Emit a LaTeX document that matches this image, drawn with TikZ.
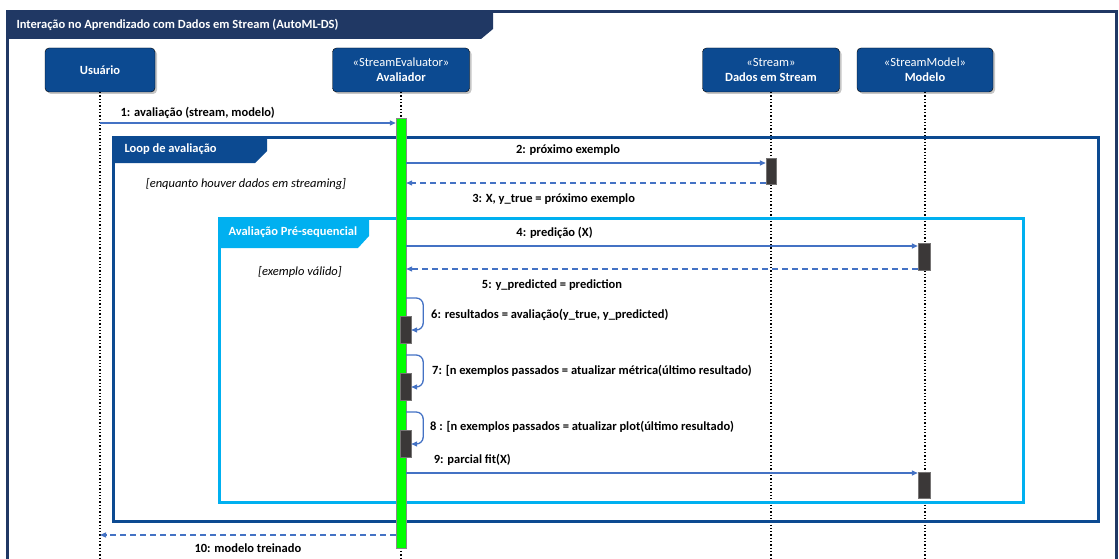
\documentclass[tikz,border=0pt]{standalone}
\usepackage{fontspec}
\setmainfont{Carlito}
\usepackage{xcolor}
\usetikzlibrary{shadows,arrows.meta}

\definecolor{navy}{RGB}{32,56,100}
\definecolor{boxblue}{RGB}{12,74,145}
\definecolor{skyblue}{RGB}{0,176,240}
\definecolor{msgblue}{RGB}{68,114,196}
\definecolor{actgray}{RGB}{59,56,56}
\definecolor{bargreen}{RGB}{0,255,0}

\begin{document}
\begin{tikzpicture}[x=1pt, y=-1pt,
    actor/.style={draw=black, fill=boxblue, rounded corners=4pt, minimum height=44pt,
        text=white, align=center, font=\fontsize{12.5}{15}\selectfont, inner sep=1pt,
        drop shadow={opacity=0.45, shadow xshift=2pt, shadow yshift=-2pt}},
    lifeline/.style={black, dotted, line width=1.3pt},
    bar/.style={draw=actgray!60, fill=bargreen, minimum width=10pt, inner sep=0pt},
    act/.style={draw=actgray!70, fill=actgray, minimum width=10pt, inner sep=0pt},
    msg/.style={msgblue, line width=1.3pt, -{Triangle[length=6pt,width=5pt]}},
    reply/.style={msg, dash pattern=on 6pt off 4pt},
    msglbl/.style={black, font=\fontsize{12.5}{15}\selectfont\bfseries, inner sep=1pt},
    guard/.style={font=\fontsize{12.5}{15}\selectfont\itshape},
    tablbl/.style={white, anchor=west, font=\fontsize{12.5}{15}\selectfont\bfseries}]
    \useasboundingbox (0,0) rectangle (1119,559);

    % outer frame
    \draw[navy, line width=3pt] (7,559) -- (7,12) -- (1116,12) -- (1116,559);
    \fill[navy] (7,12) -- (493,12) -- (493,29) -- (481,39) -- (7,39) -- cycle;
    \node[tablbl, font=\fontsize{12.5}{15}\selectfont\bfseries] (title) at (13,25)
        {Interação no Aprendizado com Dados em Stream (AutoML-DS)};

    % participants
    \node[actor, minimum width=110pt] (usr) at (100,70) {\textbf{Usuário}};
    \node[actor, minimum width=137pt] (aval) at (401,70) {«StreamEvaluator»\\\textbf{Avaliador}};
    \node[actor, minimum width=137pt] (dados) at (771,70) {«Stream»\\\textbf{Dados em Stream}};
    \node[actor, minimum width=136pt] (modelo) at (925,70) {«StreamModel»\\\textbf{Modelo}};

    \draw[lifeline] (usr.south) -- (usr.south |- 0,559);
    \draw[lifeline] (aval.south) -- (aval.south |- 0,559);
    \draw[lifeline] (dados.south) -- (dados.south |- 0,559);
    \draw[lifeline] (modelo.south) -- (modelo.south |- 0,559);

    % loop frame
    \draw[boxblue, line width=3pt] (113,138) rectangle (1098,521);
    \fill[boxblue] (113,138) -- (267,138) -- (267,151) -- (255,163) -- (113,163) -- cycle;
    \node[tablbl] (looplbl) at (121,149) {Loop de avaliação};
    \node[guard] (g1) at (246,184) {[enquanto houver dados em streaming]};

    % pre-sequencial frame
    \draw[skyblue, line width=3pt] (219,218) rectangle (1023,502);
    \fill[skyblue] (219,218) -- (369,218) -- (369,236) -- (358,248) -- (219,248) -- cycle;
    \node[tablbl] (prelbl) at (225,232) {Avaliação Pré-sequencial};
    \node[guard] (g2) at (300,272) {[exemplo válido]};

    % activations
    \node[bar, minimum height=430pt] (avalbar) at (401,333) {};
    \node[act, minimum height=26pt] (actD) at (771,171) {};
    \node[act, minimum height=27pt, minimum width=12pt] (actM1) at (924,257) {};
    \node[act, minimum height=26pt, minimum width=12pt] (actM2) at (924,485) {};
    \node[act, minimum height=27pt, minimum width=11pt] (actS6) at (405.5,330) {};
    \node[act, minimum height=27pt, minimum width=11pt] (actS7) at (405.5,386.5) {};
    \node[act, minimum height=27pt, minimum width=11pt] (actS8) at (405.5,443.5) {};

    % messages
    \draw[msg] (usr.south |- 0,123) -- (avalbar.west |- 0,123)
        node[msglbl, pos=0, above right=3pt, xshift=16pt] (m1) {1: avaliação (stream, modelo)};
    \draw[msg] (avalbar.east |- 0,163) -- (actD.west |- 0,163)
        node[msglbl, pos=0.45, above=6pt] (m2) {2: próximo exemplo};
    \draw[reply] (actD.west |- 0,183) -- (avalbar.east |- 0,183)
        node[msglbl, pos=0.59, below=9pt] (m3) {3: X, y\_true = próximo exemplo};
    \draw[msg] (avalbar.east |- 0,246) -- (actM1.west |- 0,246)
        node[msglbl, pos=0.29, above=6pt] (m4) {4: predição (X)};
    \draw[reply] (actM1.west |- 0,269) -- (avalbar.east |- 0,269)
        node[msglbl, pos=0.715, below=9pt] (m5) {5: y\_predicted = prediction};

    \draw[msg, rounded corners=7pt] (avalbar.east |- 0,298) -- ++(17,0) -- ++(0,32) -- (actS6.east |- 0,330);
    \node[msglbl, anchor=west] (m6) at (430,315) {6: resultados = avaliação(y\_true, y\_predicted)};
    \draw[msg, rounded corners=7pt] (avalbar.east |- 0,355) -- ++(17,0) -- ++(0,32) -- (actS7.east |- 0,387);
    \node[msglbl, anchor=west] (m7) at (431,371) {7: [n exemplos passados = atualizar métrica(último resultado)};
    \draw[msg, rounded corners=7pt] (avalbar.east |- 0,412) -- ++(17,0) -- ++(0,32) -- (actS8.east |- 0,444);
    \node[msglbl, anchor=west] (m8) at (429,427) {8 : [n exemplos passados = atualizar plot(último resultado)};

    \draw[msg] (avalbar.east |- 0,473) -- (actM2.west |- 0,473)
        node[msglbl, pos=0, above right=6pt, xshift=20pt] (m9) {9: parcial fit(X)};
    \draw[reply] (avalbar.west |- 0,535) -- (usr.south |- 0,535)
        node[msglbl, midway, below=7pt] (m10) {10: modelo treinado};
\end{tikzpicture}
\end{document}
